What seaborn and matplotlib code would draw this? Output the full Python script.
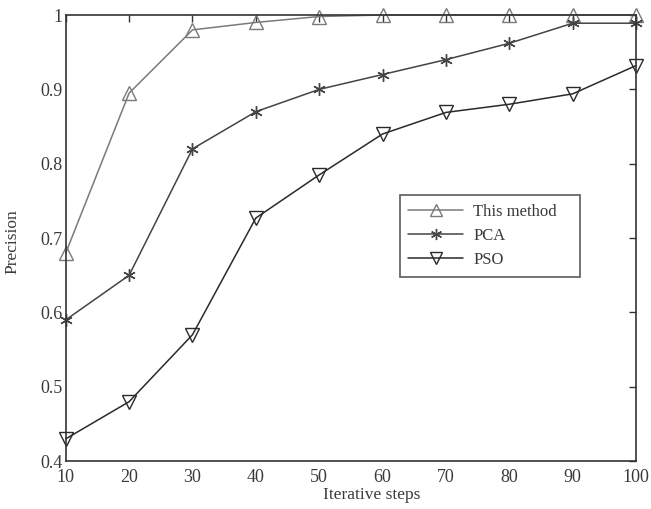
import matplotlib
matplotlib.use("Agg")
import matplotlib.pyplot as plt
import seaborn as sns
import pandas as pd
from matplotlib.lines import Line2D

steps = [10, 20, 30, 40, 50, 60, 70, 80, 90, 100]
this_method = [0.68, 0.895, 0.98, 0.99, 0.998, 1.0, 1.0, 1.0, 1.0, 1.0]
pca = [0.59, 0.65, 0.82, 0.87, 0.90, 0.92, 0.94, 0.962, 0.989, 0.989]
pso = [0.43, 0.48, 0.57, 0.727, 0.785, 0.84, 0.869, 0.88, 0.894, 0.932]
series_names = ["This method", "PCA", "PSO"]
xticks = [10, 20, 30, 40, 50, 60, 70, 80, 90, 100]
yticks = [0.4, 0.5, 0.6, 0.7, 0.8, 0.9, 1.0]
ytick_labels = ["0.4", "0.5", "0.6", "0.7", "0.8", "0.9", "1"]

sns.set_style("white")
plt.rcParams["font.family"] = ["Liberation Serif", "DejaVu Serif"]

fig = plt.figure(figsize=(6.51, 5.09), dpi=100)
ax = fig.add_axes([0.101, 0.094, 0.876, 0.8765])

styles = {
    "This method": dict(color="#7a7a7a", marker="^", ms=10),
    "PCA": dict(color="#444444", marker=(6, 2, 0), ms=9),
    "PSO": dict(color="#2a2a2a", marker="v", ms=10),
}
data = {"This method": this_method, "PCA": pca, "PSO": pso}

handles = []
for name in series_names:
    st = styles[name]
    df = pd.DataFrame({"step": steps, "precision": data[name]})
    sns.lineplot(data=df, x="step", y="precision", ax=ax, color=st["color"],
                 marker=st["marker"], markersize=st["ms"], markerfacecolor="none",
                 markeredgecolor=st["color"], markeredgewidth=1.0, linewidth=1.1,
                 legend=False, clip_on=False)
    handles.append(Line2D([], [], color=st["color"], marker=st["marker"], markersize=st["ms"] - 1,
                          markerfacecolor="none", markeredgecolor=st["color"],
                          markeredgewidth=1.0, linewidth=1.1, label=name))

ax.set_xlim(10, 100)
ax.set_ylim(0.4, 1.0)
ax.set_xticks(xticks)
ax.set_yticks(yticks)
ax.set_yticklabels(ytick_labels)
ax.tick_params(axis="both", direction="in", length=5, width=1, colors="#333333",
               labelsize=13, top=True, right=True, labelcolor="#3a3a3a")
ax.tick_params(axis="x", pad=6)
ax.tick_params(axis="y", pad=2)
for sp in ax.spines.values():
    sp.set_visible(True)
    sp.set_color("#333333")
    sp.set_linewidth(1.2)

ax.set_xlabel("Iterative steps", fontsize=12.5, color="#3a3a3a")
ax.set_ylabel("Precision", fontsize=12.5, color="#3a3a3a")
ax.xaxis.set_label_coords(0.537, -0.058)
ax.yaxis.set_label_coords(-0.08, 0.493)

leg = ax.legend(handles=handles, loc="upper left",
                bbox_to_anchor=(0.586, 0.416, 0.316, 0.18), mode="expand",
                fontsize=12, frameon=True, fancybox=False, edgecolor="#333333",
                handlelength=3.3, borderpad=0.5, labelspacing=0.5, handletextpad=0.6,
                borderaxespad=0)
leg.get_frame().set_linewidth(1.2)
for t in leg.get_texts():
    t.set_color("#3a3a3a")

fig.savefig("out.png", dpi=100, facecolor="white")
